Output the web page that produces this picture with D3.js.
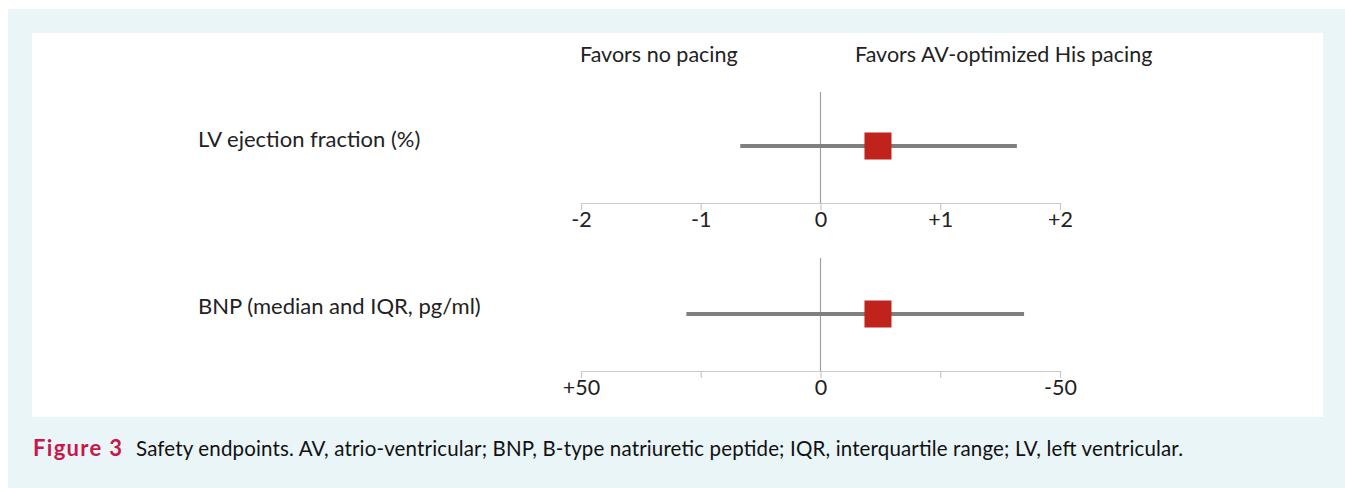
<!DOCTYPE html>
<html>
<head>
<meta charset="utf-8">
<script src="https://cdn.jsdelivr.net/npm/d3@7"></script>
<style>
  body { margin: 0; background: #fff; }
  svg { display: block; }
</style>
</head>
<body>
<div class="canvas"></div>
<script>
// endpoints and their estimates (point, lower, upper)
const endpoints = ['LV ejection fraction (%)', 'BNP (median and IQR, pg/ml)'];
const pointValues = [0.48, -12];
const lowerValues = [-0.67, 28];
const upperValues = [1.64, -42.5];
const lvTicks = [-2, -1, 0, 1, 2];
const lvTickLabels = ['-2', '-1', '0', '+1', '+2'];
const bnpTicks = [50, 25, 0, -25, -50];
const bnpTickLabels = ['+50', '', '0', '', '-50'];
const sideLabels = ['Favors no pacing', 'Favors AV-optimized His pacing'];

const W = 1345, H = 488;
const font = 'Lato, "Open Sans", sans-serif';

const svg = d3.select('.canvas')
    .append('svg')
    .attr('width', W)
    .attr('height', H);

// light cyan frame and white panel
svg.append('rect').attr('x', 8).attr('y', 9).attr('width', W - 8).attr('height', H - 9).attr('fill', '#e9f5f7');
svg.append('rect').attr('x', 32).attr('y', 33).attr('width', 1291).attr('height', 384).attr('fill', '#fff');

const xLv = d3.scaleLinear().domain([-2, 2]).range([581, 1060]);
const xBnp = d3.scaleLinear().domain([50, -50]).range([581, 1060]);

const panels = [
    { scale: xLv, ticks: lvTicks, labels: lvTickLabels, rowY: 146, labelY: 147, axisY: 203, zeroTop: 92 },
    { scale: xBnp, ticks: bnpTicks, labels: bnpTickLabels, rowY: 314, labelY: 314, axisY: 371, zeroTop: 258 }
];

// side headers
svg.selectAll('text.side')
    .data(sideLabels)
    .enter()
    .append('text')
    .attr('class', 'side')
    .attr('x', (d, i) => i === 0 ? 580 : 855)
    .attr('y', 62)
    .attr('font-family', font)
    .attr('font-size', 21.5)
    .attr('fill', '#222')
    .text(d => d);

panels.forEach((p, i) => {
    const g = svg.append('g');

    // endpoint label
    g.append('text')
        .attr('x', 198)
        .attr('y', p.labelY)
        .attr('font-family', font)
        .attr('font-size', 22)
        .attr('fill', '#222')
        .text(endpoints[i]);

    // axis
    const axis = d3.axisBottom(p.scale)
        .tickValues(p.ticks)
        .tickSize(7)
        .tickSizeOuter(0)
        .tickFormat((d, k) => p.labels[k]);

    const axisGroup = g.append('g')
        .attr('transform', `translate(0, ${p.axisY})`)
        .call(axis);
    axisGroup.select('.domain').attr('stroke', '#c9c9c9').attr('stroke-width', 1.2);
    axisGroup.selectAll('.tick line').attr('stroke', '#c9c9c9').attr('stroke-width', 1.2);
    axisGroup.selectAll('.tick text')
        .attr('y', 24)
        .attr('dy', 0)
        .attr('font-family', font)
        .attr('font-size', 21.5)
        .attr('fill', '#222');

    // zero line
    g.append('line')
        .attr('x1', p.scale(0)).attr('x2', p.scale(0))
        .attr('y1', p.zeroTop).attr('y2', p.axisY)
        .attr('stroke', '#a0a0a0')
        .attr('stroke-width', 1.2);

    // interval
    g.append('line')
        .attr('x1', p.scale(lowerValues[i])).attr('x2', p.scale(upperValues[i]))
        .attr('y1', p.rowY).attr('y2', p.rowY)
        .attr('stroke', '#7f7f7f')
        .attr('stroke-width', 4);

    // point estimate
    const s = 27;
    g.append('rect')
        .attr('x', p.scale(pointValues[i]) - s / 2)
        .attr('y', p.rowY - s / 2)
        .attr('width', s)
        .attr('height', s)
        .attr('fill', '#c0221c');
});

// caption
svg.append('text')
    .attr('x', 33)
    .attr('y', 456)
    .attr('font-family', font)
    .attr('font-size', 22)
    .attr('font-weight', 'bold')
    .attr('fill', '#c8174a')
    .attr('textLength', 89)
    .text('Figure 3');
svg.append('text')
    .attr('x', 136)
    .attr('y', 456)
    .attr('font-family', font)
    .attr('font-size', 20.5)
    .attr('fill', '#111')
    .attr('textLength', 1047)
    .text('Safety endpoints. AV, atrio-ventricular; BNP, B-type natriuretic peptide; IQR, interquartile range; LV, left ventricular.');
</script>
</body>
</html>
